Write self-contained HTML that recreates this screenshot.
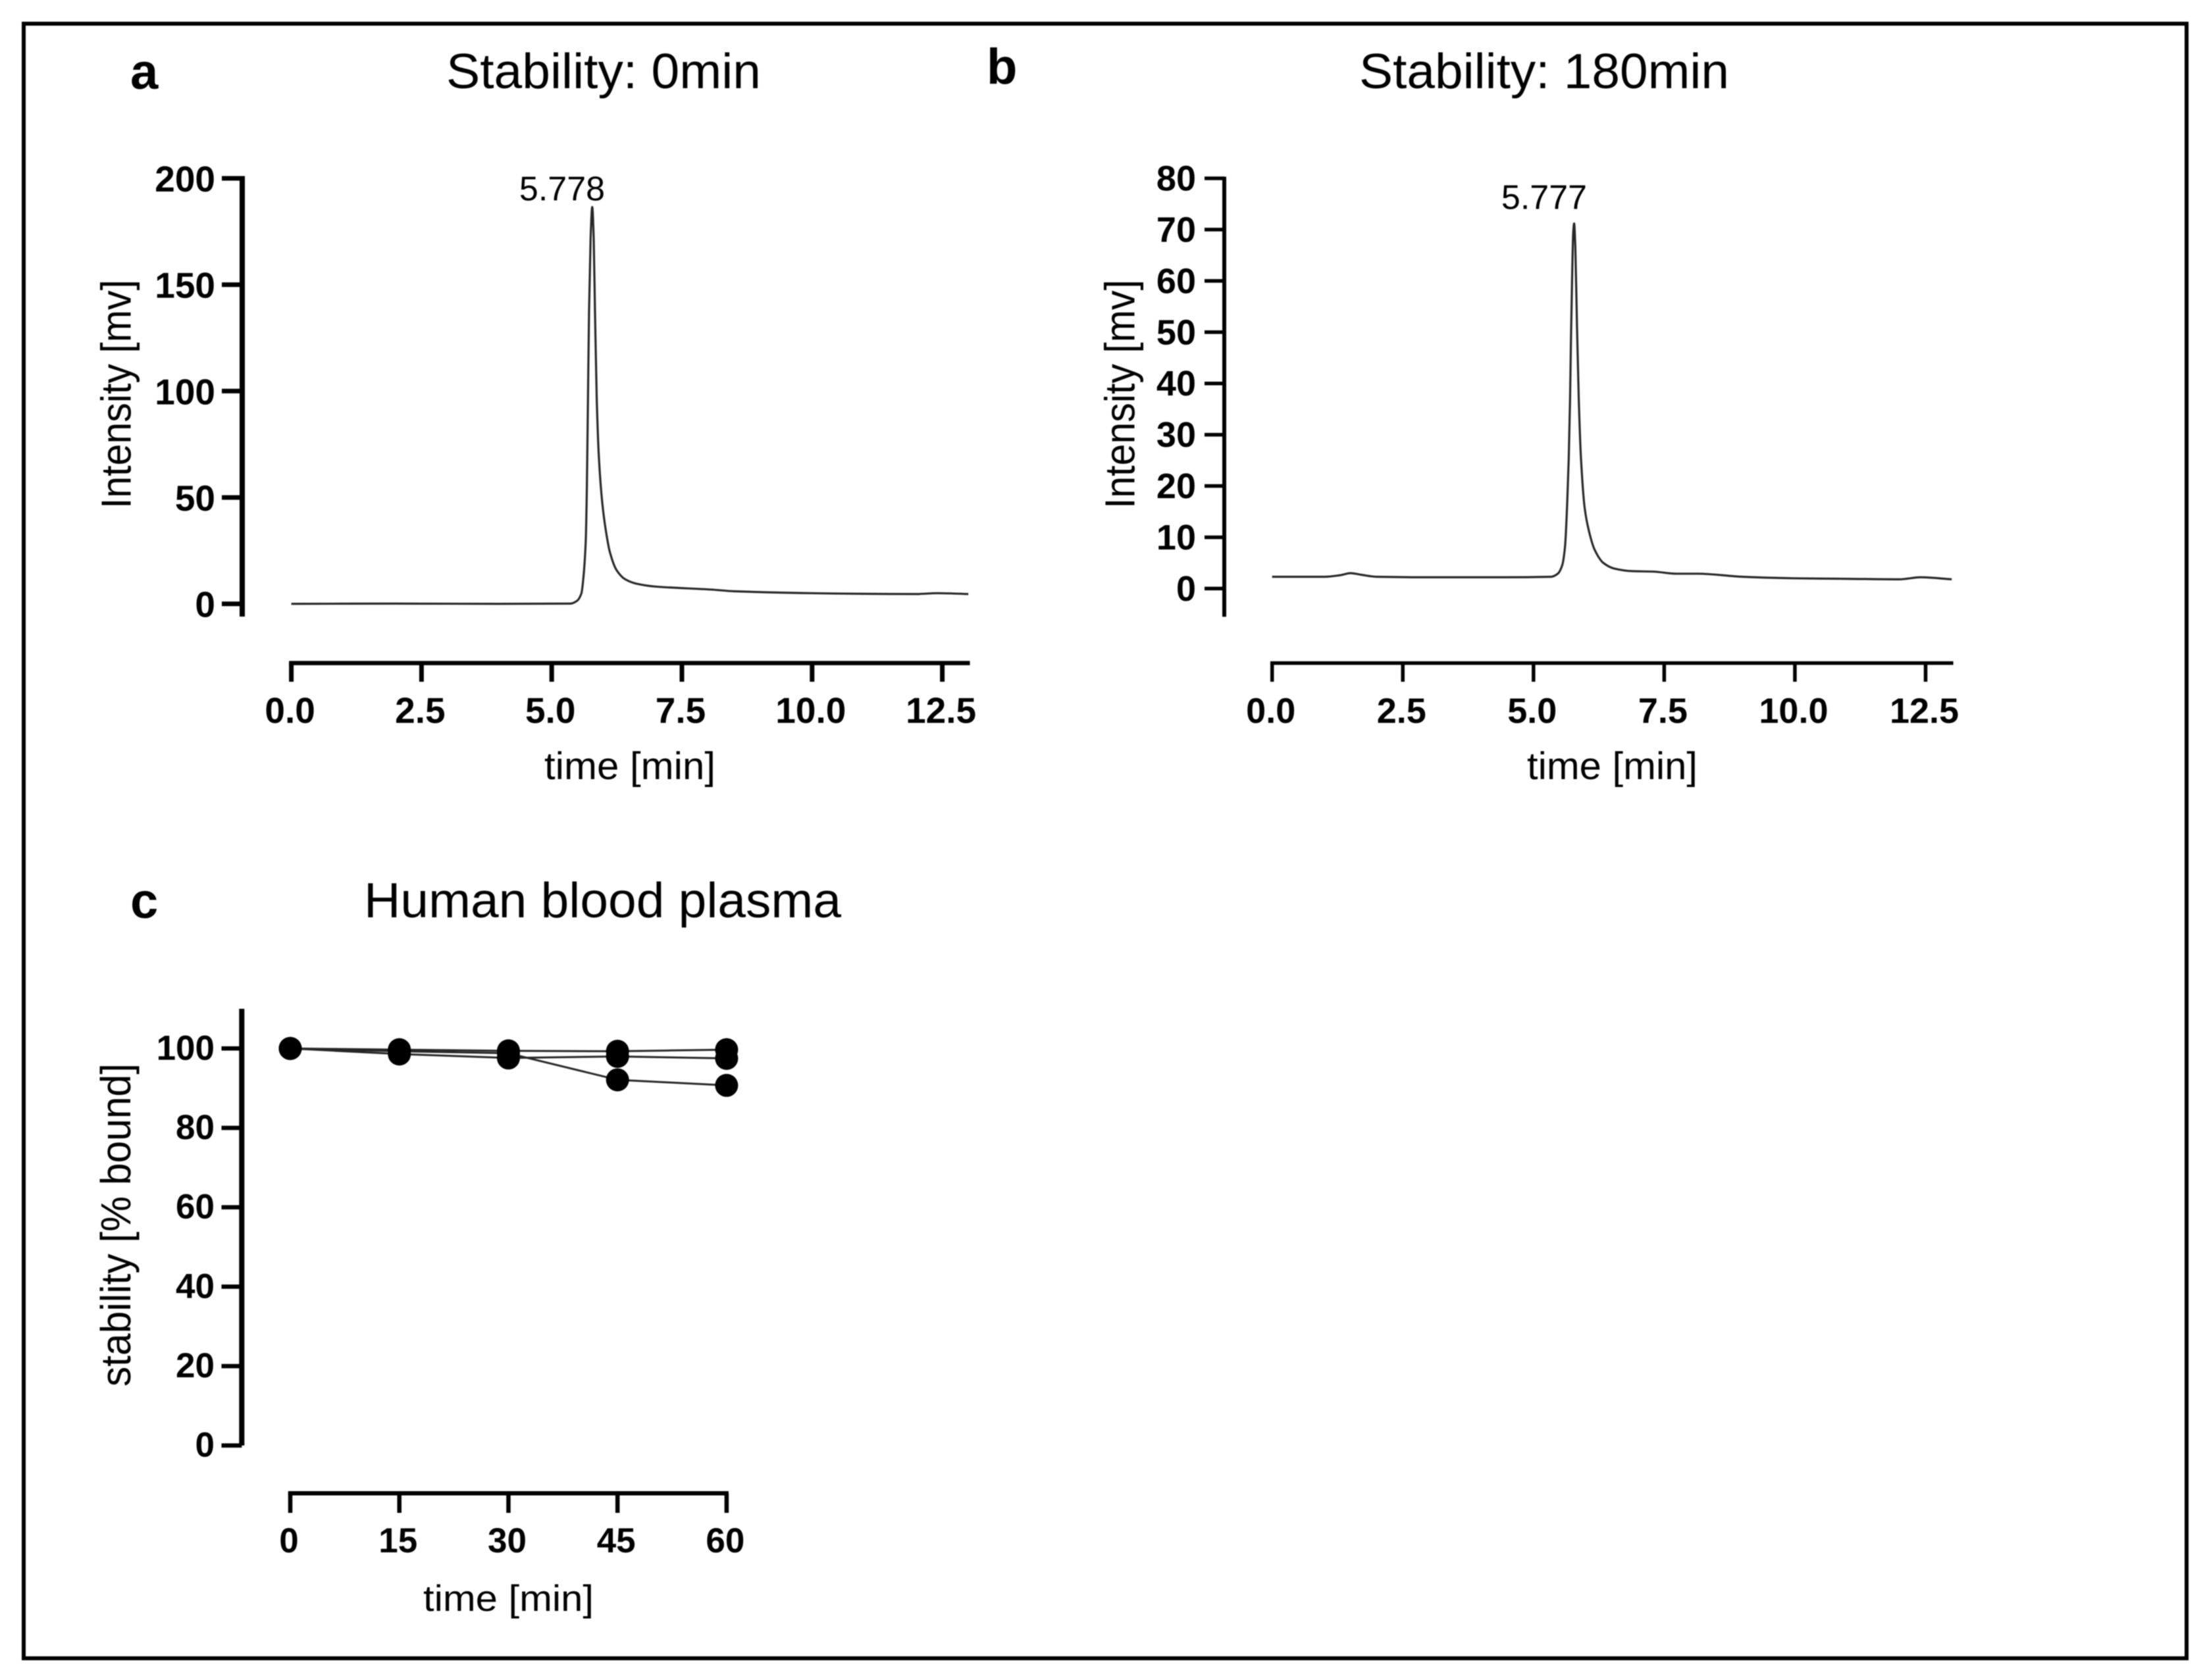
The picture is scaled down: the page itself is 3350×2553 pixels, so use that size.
<!DOCTYPE html>
<html lang="en">
<head>
<meta charset="utf-8">
<title>Stability chromatograms and human blood plasma stability</title>
<style>
html,body{margin:0;padding:0;background:#fff;}
#figure{display:block;width:3350px;height:2553px;filter:blur(0.9px);}
text{font-family:"Liberation Sans",Arial,sans-serif;fill:#000;}
.b{font-weight:700;}
</style>
</head>
<body>
<svg id="figure" xmlns="http://www.w3.org/2000/svg" width="3350" height="2553" viewBox="0 0 3350 2553">
  <rect x="0" y="0" width="3350" height="2553" fill="#fff"/>
  <rect x="36" y="36" width="3286" height="2484" fill="none" stroke="#000" stroke-width="6"/>

  <text class="b" x="198" y="135" font-size="76">a</text>
  <text class="b" x="1499" y="127" font-size="76">b</text>
  <text class="b" x="198" y="1395" font-size="76">c</text>

  <text x="678" y="134" font-size="75" textLength="478" lengthAdjust="spacingAndGlyphs">Stability: 0min</text>
  <text x="2065" y="134" font-size="75" textLength="562" lengthAdjust="spacingAndGlyphs">Stability: 180min</text>
  <text x="553" y="1394" font-size="75" textLength="725" lengthAdjust="spacingAndGlyphs">Human blood plasma</text>

  <text transform="translate(198.5,773) rotate(-90)" font-size="64" textLength="348" lengthAdjust="spacingAndGlyphs">Intensity [mv]</text>
  <text transform="translate(1723.5,773) rotate(-90)" font-size="64" textLength="348" lengthAdjust="spacingAndGlyphs">Intensity [mv]</text>
  <text transform="translate(198,2107) rotate(-90)" font-size="64" textLength="491" lengthAdjust="spacingAndGlyphs">stability [% bound]</text>

  <text x="827" y="1184" font-size="58" textLength="260" lengthAdjust="spacingAndGlyphs">time [min]</text>
  <text x="2320" y="1184" font-size="58" textLength="259" lengthAdjust="spacingAndGlyphs">time [min]</text>
  <text x="643" y="2448" font-size="56" textLength="259" lengthAdjust="spacingAndGlyphs">time [min]</text>

  <g id="panel-a"></g>
  <g id="panel-b"></g>
  <g id="panel-c"></g>
</svg>

<script>
// Panel a: chromatogram at 0 min
const timeA = [0, 2, 4, 5.36, 5.486, 5.57, 5.612, 5.654, 5.675, 5.696, 5.717, 5.747, 5.778, 5.806, 5.831, 5.865, 5.907, 5.97, 6.034, 6.118, 6.244, 6.413, 6.623, 7.0, 8.06, 8.5, 10, 11, 12, 12.4, 13];
const intensityA = [0, 0.1, 0, 0.1, 1.4, 4.9, 13.2, 29.8, 54.6, 96, 137.5, 172, 186.5, 172, 137.5, 96, 68.4, 47.7, 35.3, 24.2, 15.9, 11.5, 9.5, 8.1, 6.7, 5.9, 5, 4.7, 4.6, 5, 4.6];
const yTicksA = [0, 50, 100, 150, 200];
const xTicksA = ["0.0", "2.5", "5.0", "7.5", "10.0", "12.5"];
const peakLabelA = "5.778";

// Panel b: chromatogram at 180 min
const timeB = [0, 1.0, 1.3, 1.5, 1.7, 2.0, 3, 4.373, 5.338, 5.464, 5.548, 5.603, 5.645, 5.674, 5.699, 5.716, 5.737, 5.76, 5.777, 5.8, 5.832, 5.866, 5.908, 5.979, 6.063, 6.168, 6.336, 6.546, 6.881, 7.3, 7.72, 8.14, 9, 10, 11, 12, 12.4, 13];
const intensityB = [2.3, 2.3, 2.6, 3.0, 2.7, 2.3, 2.2, 2.2, 2.3, 2.9, 4.5, 8.2, 16.8, 25.4, 36.9, 48.3, 59.8, 69.5, 71.2, 66.6, 51.2, 36.9, 25.4, 15.7, 11.1, 7.6, 5.0, 3.9, 3.4, 3.3, 2.9, 2.9, 2.3, 2.0, 1.9, 1.8, 2.2, 1.8];
const yTicksB = [0, 10, 20, 30, 40, 50, 60, 70, 80];
const xTicksB = ["0.0", "2.5", "5.0", "7.5", "10.0", "12.5"];
const peakLabelB = "5.777";

// Panel c: stability in human blood plasma
const minutesC = [0, 15, 30, 45, 60];
const seriesC1 = [100, 99.7, 99.4, 99.3, 99.7];
const seriesC2 = [100, 98.6, 97.6, 98, 97.5];
const seriesC3 = [100, 99.3, 98.8, 92.1, 90.7];
const yTicksC = [0, 20, 40, 60, 80, 100];

const NS = 'http://www.w3.org/2000/svg';

function linear(d0, d1, r0, r1) {
  return function (v) { return r0 + (v - d0) * (r1 - r0) / (d1 - d0); };
}
function makeLine(parent, x1, y1, x2, y2, w) {
  const el = document.createElementNS(NS, 'line');
  el.setAttribute('x1', x1);
  el.setAttribute('y1', y1);
  el.setAttribute('x2', x2);
  el.setAttribute('y2', y2);
  el.setAttribute('stroke', '#000');
  el.setAttribute('stroke-width', w);
  parent.appendChild(el);
  return el;
}
function makeLabel(parent, x, y, str, size, anchor, bold) {
  const el = document.createElementNS(NS, 'text');
  el.setAttribute('x', x);
  el.setAttribute('y', y);
  el.setAttribute('font-size', size);
  el.setAttribute('text-anchor', anchor);
  if (bold) el.setAttribute('class', 'b');
  el.textContent = str;
  parent.appendChild(el);
  return el;
}
function straightPath(px, py) {
  let d = '';
  for (let i = 0; i < px.length; i++) {
    d += (i ? 'L' : 'M') + px[i].toFixed(2) + ' ' + py[i].toFixed(2);
  }
  return d;
}
// Monotone cubic through the data points, so the trace stays round without overshoot.
function smoothPath(px, py) {
  const n = px.length;
  const sec = [];
  for (let i = 0; i < n - 1; i++) sec.push((py[i + 1] - py[i]) / (px[i + 1] - px[i]));
  const m = [sec[0]];
  for (let i = 1; i < n - 1; i++) {
    if (sec[i - 1] * sec[i] <= 0) m.push(0);
    else m.push(2 * sec[i - 1] * sec[i] / (sec[i - 1] + sec[i]));
  }
  m.push(sec[n - 2]);
  let d = 'M' + px[0].toFixed(2) + ' ' + py[0].toFixed(2);
  for (let i = 0; i < n - 1; i++) {
    const h = (px[i + 1] - px[i]) / 3;
    d += 'C' + (px[i] + h).toFixed(2) + ' ' + (py[i] + m[i] * h).toFixed(2) + ' ' +
      (px[i + 1] - h).toFixed(2) + ' ' + (py[i + 1] - m[i + 1] * h).toFixed(2) + ' ' +
      px[i + 1].toFixed(2) + ' ' + py[i + 1].toFixed(2);
  }
  return d;
}
function makeTrace(parent, xs, ys, sx, sy, w, smooth) {
  const el = document.createElementNS(NS, 'path');
  const px = xs.map(sx);
  const py = ys.map(sy);
  el.setAttribute('d', smooth ? smoothPath(px, py) : straightPath(px, py));
  el.setAttribute('fill', 'none');
  el.setAttribute('stroke', '#262626');
  el.setAttribute('stroke-width', w);
  el.setAttribute('stroke-linejoin', 'round');
  parent.appendChild(el);
  return el;
}

function drawAxes(g, o) {
  const yAxis = makeLine(g, o.yAxisX, o.sy(o.yTop) - o.capTop, o.yAxisX, o.sy(o.yBottom), o.yAxisW);
  
  
  o.yTicks.forEach(function (v) {
    const t = makeLine(g, o.tickLeft, o.sy(v), o.yAxisX, o.sy(v), o.tickW);
    
    
    const l = makeLabel(g, o.yLabelX, o.sy(v) + o.yLabelDy, String(v), o.fontSize, 'end', true);
    
    
  });
  const xAxis = makeLine(g, o.sx(o.xStart) - o.tickW / 2, o.xAxisY, o.xEndPx, o.xAxisY, o.xAxisW);
  
  
  o.xTicks.forEach(function (v) {
    const px = o.sx(parseFloat(v));
    const t = makeLine(g, px, o.xAxisY, px, o.xTickBottom, o.tickW);
    
    
    const l = makeLabel(g, px - 2, o.xLabelY, String(v), o.fontSize, 'middle', true);
    
    
  });
}

// Panel a
const gA = document.getElementById('panel-a');
const sxA = linear(0, 12.5, 442.6, 1431.6);
const syA = linear(0, 200, 917.6, 271);
drawAxes(gA, {
  sx: sxA, sy: syA, xStart: 0, xEndPx: sxA(13.03), yTop: 200, yBottom: -6, capTop: 3.5,
  yAxisX: 368, yAxisW: 8, tickLeft: 337, tickW: 7, xAxisY: 1007.6, xAxisW: 6.5, xTickBottom: 1036,
  yLabelX: 327, yLabelDy: 20, xLabelY: 1098.5, fontSize: 55, yTicks: yTicksA, xTicks: xTicksA
});
const traceA = makeTrace(gA, timeA, intensityA, sxA, syA, 3.2, true);


const peakA = makeLabel(gA, 854, 304.5, peakLabelA, 52, 'middle', false);



// Panel b
const gB = document.getElementById('panel-b');
const sxB = linear(0, 12.5, 1932.7, 2925.5);
const syB = linear(0, 80, 894.4, 271);
drawAxes(gB, {
  sx: sxB, sy: syB, xStart: 0, xEndPx: sxB(13.03), yTop: 80, yBottom: -5.5, capTop: 2.5,
  yAxisX: 1860, yAxisW: 6, tickLeft: 1830, tickW: 5.5, xAxisY: 1007.6, xAxisW: 5.5, xTickBottom: 1036,
  yLabelX: 1817, yLabelDy: 18.5, xLabelY: 1098.5, fontSize: 54, yTicks: yTicksB, xTicks: xTicksB
});
const traceB = makeTrace(gB, timeB, intensityB, sxB, syB, 3.2, true);


const peakB = makeLabel(gB, 2346, 317.5, peakLabelB, 52, 'middle', false);



// Panel c
const gC = document.getElementById('panel-c');
const sxC = linear(0, 60, 441, 1103.9);
const syC = linear(0, 100, 2196.6, 1593.3);
drawAxes(gC, {
  sx: sxC, sy: syC, xStart: 0, xEndPx: sxC(60) + 3, yTop: 110, yBottom: 0, capTop: 0,
  yAxisX: 367.3, yAxisW: 8, tickLeft: 336.5, tickW: 6.5, xAxisY: 2269.3, xAxisW: 6.5, xTickBottom: 2299,
  yLabelX: 326, yLabelDy: 17, xLabelY: 2358.8, fontSize: 53, yTicks: yTicksC, xTicks: minutesC
});
[seriesC1, seriesC2, seriesC3].forEach(function (series) {
  const line = makeTrace(gC, minutesC, series, sxC, syC, 3, false);
  
  
  series.forEach(function (v, i) {
    const dot = document.createElementNS(NS, 'circle');
    dot.setAttribute('cx', sxC(minutesC[i]));
    dot.setAttribute('cy', syC(v));
    dot.setAttribute('r', 17.5);
    dot.setAttribute('fill', '#000');
    
    
    gC.appendChild(dot);
  });
});
</script>
</body>
</html>
